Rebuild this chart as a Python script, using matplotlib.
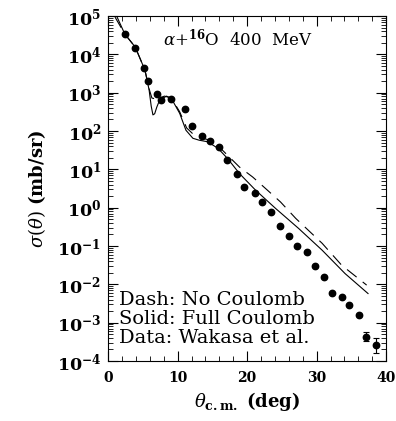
import numpy as np
import matplotlib
matplotlib.use("Agg")
import matplotlib.pyplot as plt
from matplotlib.ticker import MultipleLocator, LogLocator, NullFormatter

plt.rcParams['font.family'] = 'DejaVu Serif'
plt.rcParams['mathtext.fontset'] = 'dejavuserif'

# data (Wakasa et al.)
theta_data = [2.4, 3.9, 5.2, 5.7, 7.0, 7.6, 9.0, 11.0, 12.1, 13.5, 14.6, 16.0, 17.1, 18.5,
              19.6, 21.1, 22.1, 23.5, 24.7, 26.1, 27.2, 28.6, 29.7, 31.1, 32.2, 33.6,
              34.7, 36.1, 37.1, 38.5]
logsig_data = [4.53, 4.17, 3.65, 3.31, 2.96, 2.82, 2.83, 2.58, 2.13, 1.87, 1.74, 1.59, 1.24, 0.89,
               0.54, 0.39, 0.16, -0.10, -0.49, -0.73, -1.00, -1.16, -1.53, -1.81, -2.23, -2.34,
               -2.55, -2.81, -3.37, -3.59]
logerr_data = [0]*28 + [0.12, 0.2]

# solid: full Coulomb
theta_solid = [1.3, 2.4, 3.9, 5.3, 5.9, 6.2, 6.45, 6.7, 7.0, 7.4, 8.4, 9.1, 10.3, 11.2, 12.2, 13.1,
               14.3, 15.8, 17.2, 18.9, 21.2, 24.1, 27.4, 30.8, 34.1, 37.4]
logsig_solid = [4.97, 4.53, 4.19, 3.59, 3.07, 2.65, 2.42, 2.45, 2.62, 2.80, 2.91, 2.85, 2.46, 2.02,
                1.81, 1.76, 1.72, 1.55, 1.28, 0.89, 0.46, -0.02, -0.54, -1.11, -1.72, -2.24]

# dash: no Coulomb
theta_dash = [1.0, 2.4, 3.9, 5.3, 5.9, 6.3, 7.0, 8.1, 9.1, 10.3, 11.3, 12.4, 13.6, 14.7, 16.0,
              18.9, 20.8, 22.9, 24.8, 27.0, 30.8, 33.6, 37.2]
logsig_dash = [4.97, 4.53, 4.19, 3.59, 3.10, 2.86, 2.83, 2.91, 2.86, 2.50, 2.08, 1.89, 1.81, 1.76,
               1.58, 1.06, 0.80, 0.46, 0.15, -0.28, -0.93, -1.50, -2.02]

fig = plt.figure(figsize=(3.96, 4.21), dpi=100)
ax = fig.add_axes([0.273, 0.1425, 0.702, 0.8195])

ax.plot(theta_solid, 10**np.array(logsig_solid), color='black', lw=0.8)
ax.plot(theta_dash, 10**np.array(logsig_dash), color='black', lw=0.8, dashes=(11, 7))

y = 10**np.array(logsig_data)
yerr_lo = y - 10**(np.array(logsig_data) - np.array(logerr_data))
yerr_hi = 10**(np.array(logsig_data) + np.array(logerr_data)) - y
ax.errorbar(theta_data, y, yerr=[yerr_lo, yerr_hi], fmt='o', color='black', ms=4.6,
            elinewidth=0.8, capsize=2, capthick=0.8)

ax.set_yscale('log')
ax.set_xlim(0, 40)
ax.set_ylim(1e-4, 1e5)
ax.xaxis.set_major_locator(MultipleLocator(10))
ax.xaxis.set_minor_locator(MultipleLocator(2))
ax.yaxis.set_major_locator(LogLocator(base=10, numticks=20))
ax.yaxis.set_minor_locator(LogLocator(base=10, subs=np.arange(2, 10), numticks=20))
ax.yaxis.set_minor_formatter(NullFormatter())
ax.tick_params(which='both', direction='in', top=True, right=True)
ax.tick_params(which='major', length=7, width=0.8)
ax.tick_params(which='minor', length=3.5, width=0.6)
for lab in ax.get_xticklabels():
    lab.set_fontweight('bold')
    lab.set_fontsize(10)
for lab in ax.get_yticklabels():
    lab.set_fontweight('bold')
    lab.set_fontsize(12.5)
ax.tick_params(axis='x', pad=7)
ax.tick_params(axis='y', pad=5)

ax.set_xlabel(r'$\theta_{\mathbf{c.m.}}$ (deg)', fontsize=13, fontweight='bold')
ax.set_ylabel(r'$\sigma(\theta)$ (mb/sr)', fontsize=13, fontweight='bold', labelpad=6)

ax.text(0.196, 0.916, r'$\alpha$+$^{\mathbf{16}}$O  400  MeV', transform=ax.transAxes, fontsize=12)
ax.text(0.04, 0.162, 'Dash: No Coulomb', transform=ax.transAxes, fontsize=14)
ax.text(0.04, 0.107, 'Solid: Full Coulomb', transform=ax.transAxes, fontsize=14)
ax.text(0.04, 0.052, 'Data: Wakasa et al.', transform=ax.transAxes, fontsize=14)

fig.savefig('out.png', dpi=100)
